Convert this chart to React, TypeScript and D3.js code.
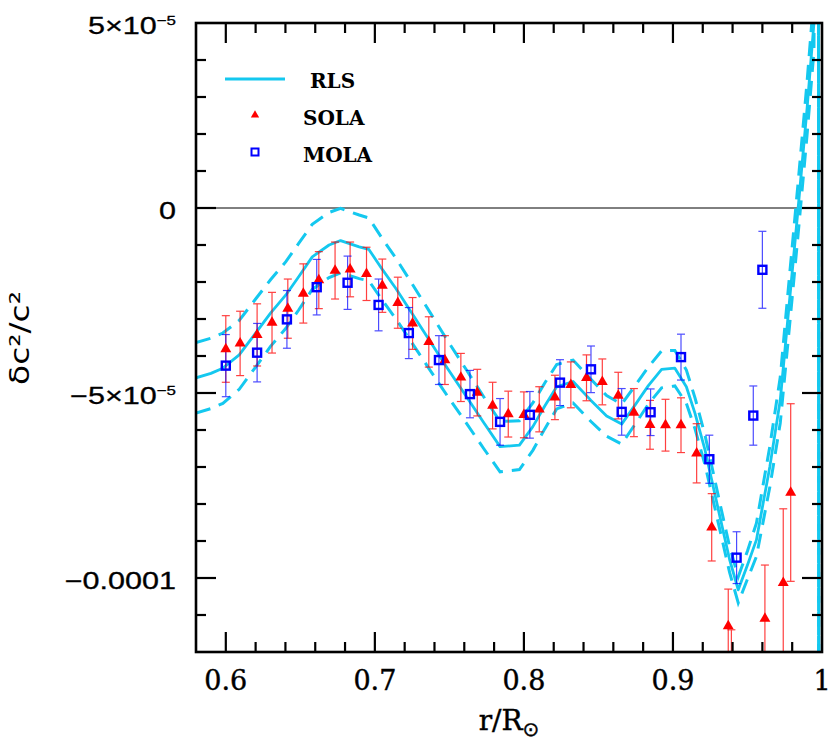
import React from 'react';
import * as d3 from 'd3';

const W = 830;
const H = 747;
const X0 = 196, X1 = 822, Y0 = 23, Y1 = 652;
const UNIT = 1e-5;

// axes
const xDomain = [0.58, 1.0];
const yDomain = [-12, 5]; // in units of 1e-5
const xMajorTicks = [0.6, 0.7, 0.8, 0.9, 1.0];
const xTickLabels = ['0.6', '0.7', '0.8', '0.9', '1'];
const yMajorTicks = [5, 0, -5, -10];
const yTickMain = ['5×10', '0', '−5×10', '−0.0001'];
const yTickSup = ['−5', '', '−5', ''];

// RLS inversion (solid = value, dashed = value ± error), units of 1e-5
const rlsR = [0.58, 0.59, 0.598, 0.609, 0.62, 0.63, 0.6403, 0.649, 0.658, 0.6693, 0.677, 0.6895, 0.696, 0.705, 0.714, 0.725, 0.737, 0.749, 0.7615, 0.773, 0.784, 0.797, 0.806, 0.814, 0.822, 0.833, 0.845, 0.8555, 0.8656, 0.875, 0.8835, 0.8924, 0.9013, 0.909, 0.9148, 0.9215, 0.927, 0.9315, 0.938, 0.9438, 0.95, 0.956, 0.965, 0.972, 0.978, 0.984, 0.99, 0.9946, 0.9975, 0.998];
const rlsV = [-4.59, -4.47, -4.33, -3.97, -3.38, -2.84, -2.35, -1.85, -1.32, -1.0, -0.88, -1.05, -1.12, -1.66, -2.17, -2.85, -3.6, -4.35, -5.1, -5.8, -6.45, -6.41, -5.91, -5.35, -4.83, -4.69, -5.2, -5.62, -5.84, -5.3, -4.8, -4.36, -4.33, -4.83, -5.55, -6.54, -7.53, -8.34, -9.5, -10.32, -9.65, -8.97, -6.99, -5.19, -2.6, 0, 2.7, 5.0, 30, -40];
const rlsErr = [0.95, 0.95, 0.95, 0.93, 0.92, 0.9, 0.9, 0.9, 0.88, 0.88, 0.87, 0.86, 0.85, 0.83, 0.82, 0.8, 0.78, 0.75, 0.72, 0.7, 0.68, 0.66, 0.64, 0.62, 0.6, 0.58, 0.57, 0.55, 0.54, 0.52, 0.5, 0.5, 0.48, 0.45, 0.42, 0.4, 0.38, 0.36, 0.35, 0.35, 0.38, 0.45, 0.55, 0.62, 0.68, 0.7, 0.72, 0.75, 0, 0];

// SOLA
const solaR = [0.6, 0.6096, 0.621, 0.631, 0.6416, 0.652, 0.6624, 0.6733, 0.6834, 0.6944, 0.705, 0.7154, 0.7253, 0.7362, 0.747, 0.7577, 0.7687, 0.779, 0.7895, 0.8, 0.8103, 0.8208, 0.8315, 0.842, 0.8526, 0.8633, 0.8738, 0.8846, 0.895, 0.9054, 0.9159, 0.926, 0.9371, 0.9392, 0.9617, 0.974, 0.979];
const solaV = [-3.81, -3.66, -3.43, -3.1, -2.72, -2.31, -1.95, -1.69, -1.66, -1.78, -2.1, -2.56, -3.12, -3.62, -4.11, -4.58, -4.99, -5.34, -5.57, -5.59, -5.44, -5.12, -4.78, -4.59, -4.7, -5.07, -5.53, -5.86, -5.87, -5.87, -6.63, -8.63, -11.3, -12.6, -11.1, -10.13, -7.69];
const solaErr = [0.9, 0.87, 0.84, 0.82, 0.8, 0.8, 0.77, 0.77, 0.74, 0.72, 0.72, 0.69, 0.7, 0.68, 0.66, 0.65, 0.63, 0.63, 0.62, 0.62, 0.61, 0.6, 0.62, 0.62, 0.62, 0.63, 0.65, 0.66, 0.7, 0.74, 0.8, 0.91, 1.0, 1.2, 1.45, 2.0, 2.4];

// MOLA
const molaR = [0.6, 0.621, 0.641, 0.661, 0.6817, 0.7025, 0.7228, 0.743, 0.7638, 0.784, 0.804, 0.8242, 0.845, 0.8656, 0.885, 0.9054, 0.9244, 0.9427, 0.9539, 0.96];
const molaV = [-4.26, -3.91, -3.01, -2.14, -2.02, -2.62, -3.38, -4.11, -5.03, -5.78, -5.59, -4.72, -4.36, -5.51, -5.52, -4.03, -6.79, -9.45, -5.61, -1.67];
const molaErr = [0.84, 0.79, 0.78, 0.75, 0.72, 0.7, 0.69, 0.66, 0.64, 0.63, 0.63, 0.62, 0.63, 0.63, 0.63, 0.62, 0.65, 0.7, 0.8, 1.04];

const legendLabels = ['RLS', 'SOLA', 'MOLA'];

const CYAN = '#14c8ef';
const RED = '#ff0000';
const BLUE = '#0000ff';

export default function App() {
  const x = d3.scaleLinear().domain(xDomain).range([X0, X1]);
  const yv = d3.scaleLinear().domain([yDomain[0] * UNIT, yDomain[1] * UNIT]).range([Y1, Y0]);
  const y = (v: number) => yv(v * UNIT);

  const idx = rlsR.map((_, i) => i);
  const line = d3.line<number>().x((i) => x(rlsR[i])).y((i) => y(rlsV[i]));
  const lineUp = d3.line<number>().x((i) => x(rlsR[i])).y((i) => y(rlsV[i] + rlsErr[i]));
  const lineDn = d3.line<number>().x((i) => x(rlsR[i])).y((i) => y(rlsV[i] - rlsErr[i]));

  const tri = d3.symbol().type(d3.symbolTriangle).size(52)();
  const triLeg = d3.symbol().type(d3.symbolTriangle).size(30)();

  const xMinor = d3.range(0.6, 1.0, 0.02).map((v) => +v.toFixed(3)).filter((v) => !xMajorTicks.some((m) => Math.abs(m - v) < 1e-6));
  const yMinor = d3.range(-11, 5, 1).filter((v) => v % 5 !== 0);

  const cap = 4;
  const serif = 'DejaVu Serif';
  const sans = 'Liberation Sans';

  return (
    <svg width={W} height={H} style={{ display: 'block', position: 'absolute', left: 0, top: 0 }}>
      <rect x={0} y={0} width={W} height={H} fill="#fff" />
      <defs>
        <clipPath id="plot">
          <rect x={X0} y={Y0} width={X1 - X0} height={Y1 - Y0} />
        </clipPath>
      </defs>

      {/* zero line */}
      <line x1={X0} x2={X1} y1={y(0)} y2={y(0)} stroke="#000" strokeWidth={1} />

      <g clipPath="url(#plot)">
        {/* RLS */}
        <path d={lineUp(idx) || ''} fill="none" stroke={CYAN} strokeWidth={3} strokeDasharray="15 9" />
        <path d={lineDn(idx) || ''} fill="none" stroke={CYAN} strokeWidth={3} strokeDasharray="15 9" />
        <path d={line(idx) || ''} fill="none" stroke={CYAN} strokeWidth={2.8} strokeLinejoin="round" />

        {/* SOLA error bars */}
        {solaR.map((r, i) => {
          const cx = x(r);
          const t = y(solaV[i] + solaErr[i]);
          const b = y(solaV[i] - solaErr[i]);
          return (
            <g key={'se' + i} stroke={RED} strokeWidth={1.2} opacity={0.75}>
              <line x1={cx} x2={cx} y1={t} y2={b} />
              <line x1={cx - cap} x2={cx + cap} y1={t} y2={t} />
              <line x1={cx - cap} x2={cx + cap} y1={b} y2={b} />
            </g>
          );
        })}
        {/* MOLA error bars */}
        {molaR.map((r, i) => {
          const cx = x(r);
          const t = y(molaV[i] + molaErr[i]);
          const b = y(molaV[i] - molaErr[i]);
          return (
            <g key={'me' + i} stroke={BLUE} strokeWidth={1.2} opacity={0.7}>
              <line x1={cx} x2={cx} y1={t} y2={b} />
              <line x1={cx - cap} x2={cx + cap} y1={t} y2={t} />
              <line x1={cx - cap} x2={cx + cap} y1={b} y2={b} />
            </g>
          );
        })}
        {/* SOLA markers */}
        {solaR.map((r, i) => (
          <path key={'sm' + i} d={tri || ''} transform={`translate(${x(r)},${y(solaV[i])})`} fill={RED} />
        ))}
        {/* MOLA markers */}
        {molaR.map((r, i) => (
          <rect key={'mm' + i} x={x(r) - 4} y={y(molaV[i]) - 4} width={8} height={8} fill="none" stroke={BLUE} strokeWidth={2.4} />
        ))}
      </g>

      {/* ticks */}
      <g stroke="#000" strokeWidth={2.2}>
        {xMajorTicks.filter((v) => v < 0.999).map((v) => (
          <g key={'xM' + v}>
            <line x1={x(v)} x2={x(v)} y1={Y1} y2={Y1 - 20} />
            <line x1={x(v)} x2={x(v)} y1={Y0} y2={Y0 + 20} />
          </g>
        ))}
        {xMinor.map((v) => (
          <g key={'xm' + v}>
            <line x1={x(v)} x2={x(v)} y1={Y1} y2={Y1 - 10} />
            <line x1={x(v)} x2={x(v)} y1={Y0} y2={Y0 + 10} />
          </g>
        ))}
        {yMajorTicks.filter((v) => v < 5).map((v) => (
          <g key={'yM' + v}>
            <line x1={X0} x2={X0 + 20} y1={y(v)} y2={y(v)} />
            <line x1={X1} x2={X1 - 20} y1={y(v)} y2={y(v)} />
          </g>
        ))}
        {yMinor.map((v) => (
          <g key={'ym' + v}>
            <line x1={X0} x2={X0 + 10} y1={y(v)} y2={y(v)} />
            <line x1={X1} x2={X1 - 10} y1={y(v)} y2={y(v)} />
          </g>
        ))}
      </g>

      {/* frame */}
      <rect x={X0} y={Y0} width={X1 - X0} height={Y1 - Y0} fill="none" stroke="#000" strokeWidth={2.6} />

      {/* x tick labels */}
      {xMajorTicks.map((v, i) => (
        <text key={'xl' + i} x={x(v)} y={690} textAnchor="middle" fontFamily={serif} fontSize={27} fill="#000" stroke="#000" strokeWidth={0.4}>
          {xTickLabels[i]}
        </text>
      ))}

      {/* y tick labels */}
      {yMajorTicks.map((v, i) => (
        <text
          key={'yl' + i}
          transform={`translate(176,${y(v) + 11}) scale(1.3,1)`}
          textAnchor="end"
          fontFamily={sans}
          fontSize={23.5}
          fill="#000"
          stroke="#000"
          strokeWidth={0.3}
        >
          {yTickMain[i]}
          {yTickSup[i] ? (
            <tspan fontSize={13} dy={-9}>
              {yTickSup[i]}
            </tspan>
          ) : null}
        </text>
      ))}

      {/* axis titles */}
      <text x={509} y={730} textAnchor="middle" fontFamily={serif} fontSize={28} fill="#000" stroke="#000" strokeWidth={0.4}>
        r/R
        <tspan fontFamily="DejaVu Sans" fontSize={20} dy={6}>⊙</tspan>
      </text>
      <text
        transform="translate(29,338) rotate(-90) scale(1.22,1)"
        textAnchor="middle"
        fontFamily="DejaVu Sans"
        fontSize={27}
        fill="#000"
      >
        δc²/c²
      </text>

      {/* legend */}
      <line x1={225} x2={285} y1={79} y2={79} stroke={CYAN} strokeWidth={3} />
      <text x={310} y={88} fontFamily={serif} fontWeight="bold" fontSize={20} fill="#000">{legendLabels[0]}</text>
      <path d={triLeg || ''} transform="translate(255,115)" fill={RED} />
      <text x={303} y={125} fontFamily={serif} fontWeight="bold" fontSize={20} fill="#000">{legendLabels[1]}</text>
      <rect x={251.5} y={148.5} width={7} height={7} fill="none" stroke={BLUE} strokeWidth={2} />
      <text x={303} y={162} fontFamily={serif} fontWeight="bold" fontSize={20} fill="#000">{legendLabels[2]}</text>
    </svg>
  );
}
